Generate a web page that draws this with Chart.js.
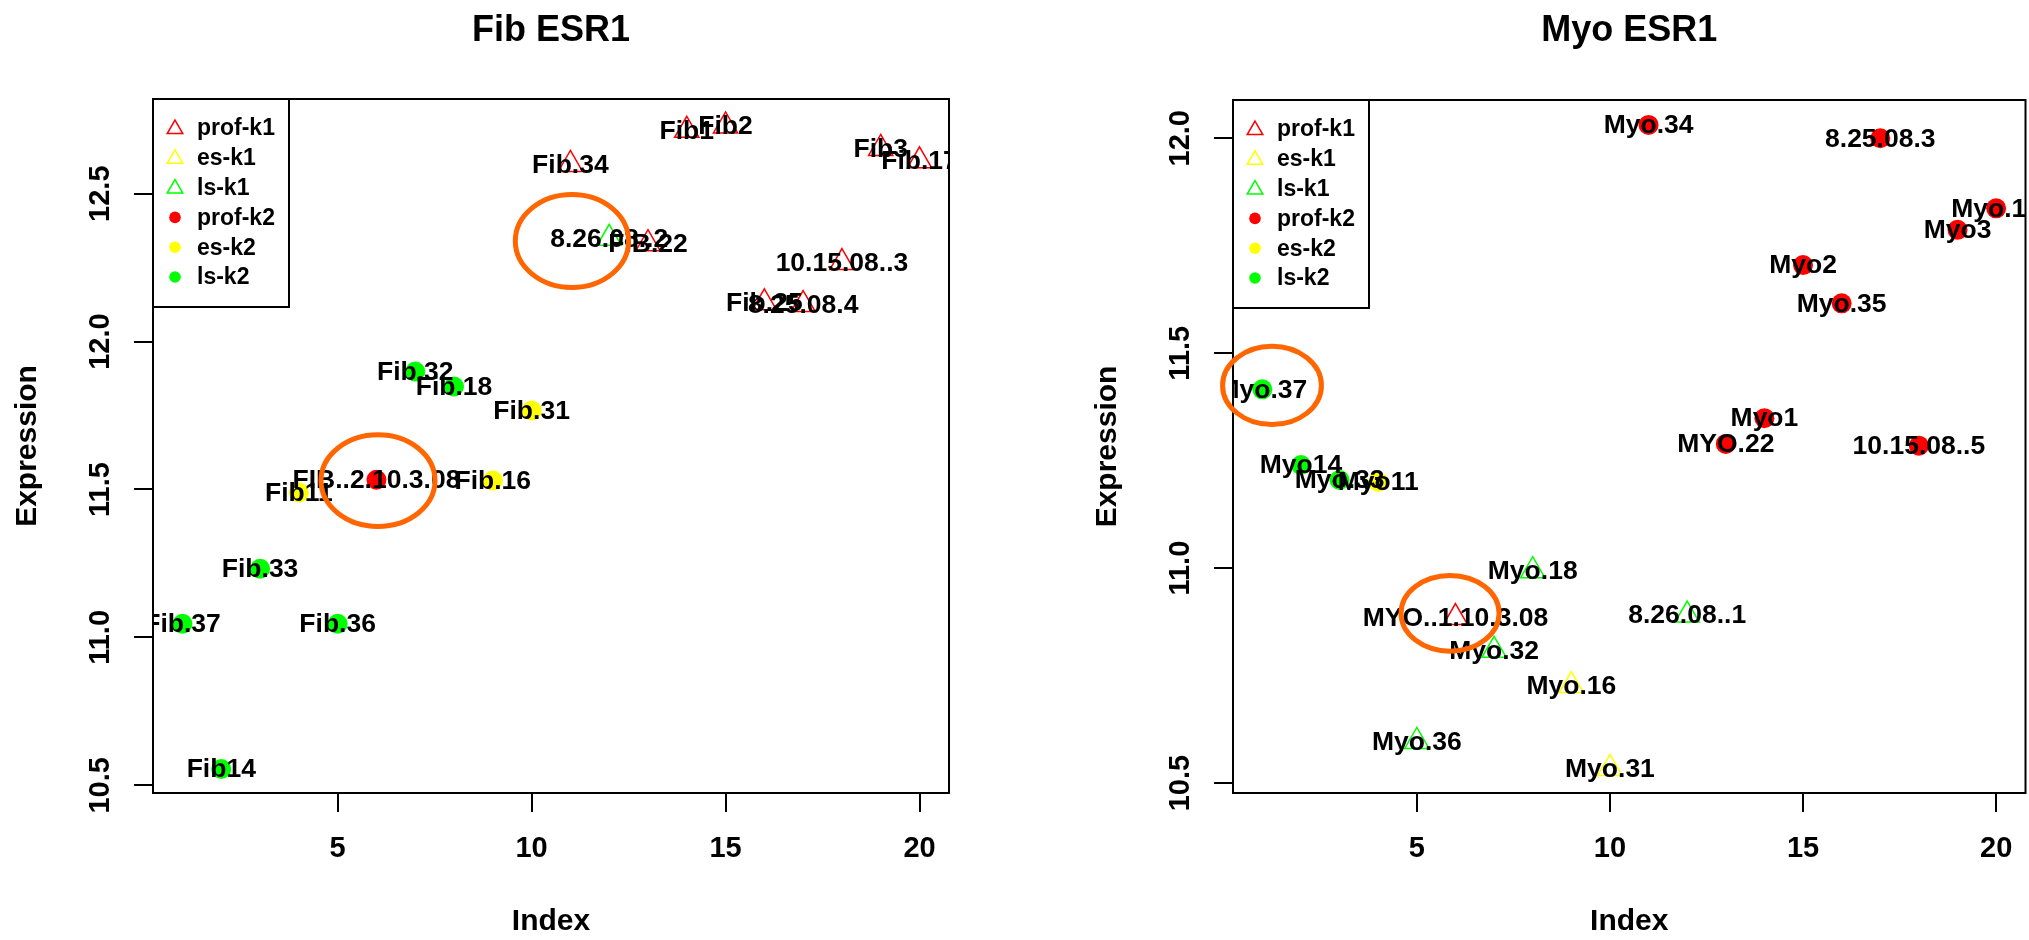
<!DOCTYPE html>
<html lang="en">
<head>
  <meta charset="UTF-8">
  <title>Fib / Myo ESR1</title>
  <script src="https://cdn.jsdelivr.net/npm/chart.js"></script>
  <style>
    body { margin: 0; background: #fff; overflow: hidden; }
    canvas { position: absolute; top: 0; }
    #fibChart { left: 0; }
    #myoChart { left: 1080px; }
  </style>
</head>
<body>
  <canvas id="fibChart" width="1014" height="940"></canvas>
  <canvas id="myoChart" width="961" height="940"></canvas>

  <script>
    // groups used in the legend
    const groupNames = ['prof-k1', 'es-k1', 'ls-k1', 'prof-k2', 'es-k2', 'ls-k2'];
    const groupColors = ['#ff0000', '#ffff00', '#00ff00', '#ff0000', '#ffff00', '#00ff00'];
    const groupShapes = ['triangle', 'triangle', 'triangle', 'circle', 'circle', 'circle'];

    // Fib panel, samples in index order 1..20
    const fibLabels = ['Fib.37', 'Fib14', 'Fib.33', 'Fib11', 'Fib.36', 'FIB..2.10.3.08', 'Fib.32', 'Fib.18', 'Fib.16', 'Fib.31',
      'Fib.34', '8.26.08..2', 'FIB.22', 'Fib1', 'Fib2', 'Fib.25', '8.25.08.4', '10.15.08..3', 'Fib3', 'Fib.17'];
    const fibValues = [11.046, 10.555, 11.232, 11.49, 11.046, 11.533, 11.899, 11.848, 11.53, 11.767,
      12.599, 12.349, 12.331, 12.714, 12.729, 12.131, 12.125, 12.267, 12.653, 12.611];
    const fibGroups = ['ls-k2', 'ls-k2', 'ls-k2', 'es-k2', 'ls-k2', 'prof-k2', 'ls-k2', 'ls-k2', 'es-k2', 'es-k2',
      'prof-k1', 'ls-k1', 'prof-k1', 'prof-k1', 'prof-k1', 'prof-k1', 'prof-k1', 'prof-k1', 'prof-k1', 'prof-k1'];

    // Myo panel
    const myoLabels = ['Myo.37', 'Myo14', 'Myo.33', 'Myo11', 'Myo.36', 'MYO..1.10.3.08', 'Myo.32', 'Myo.18', 'Myo.16', 'Myo.31',
      'Myo.34', '8.26.08..1', 'MYO.22', 'Myo1', 'Myo2', 'Myo.35', '8.25.08.3', '10.15.08..5', 'Myo3', 'Myo.17'];
    const myoValues = [11.416, 11.240, 11.205, 11.201, 10.597, 10.885, 10.809, 10.994, 10.727, 10.534,
      12.031, 10.891, 11.289, 11.349, 11.705, 11.616, 12.0, 11.285, 11.787, 11.837];
    const myoGroups = ['ls-k2', 'ls-k2', 'ls-k2', 'es-k2', 'ls-k1', 'prof-k1', 'ls-k1', 'ls-k1', 'es-k1', 'es-k1',
      'prof-k2', 'ls-k1', 'prof-k2', 'prof-k2', 'prof-k2', 'prof-k2', 'prof-k2', 'prof-k2', 'prof-k2', 'prof-k2'];

    // tick labels and axis limits
    const xTicks = [5, 10, 15, 20];
    const fibYTicks = [10.5, 11.0, 11.5, 12.0, 12.5];
    const myoYTicks = [10.5, 11.0, 11.5, 12.0];
    const xMin = 0.24, xMax = 20.76;
    const fibYMin = 10.474, fibYMax = 12.820;
    const myoYMin = 10.477, myoYMax = 12.089;

    // orange highlight rings (centre and half-size in data units)
    const fibRings = [
      { x: 11.04, y: 12.34, dx: 1.46, dy: 0.157 },
      { x: 6.04, y: 11.53, dx: 1.47, dy: 0.155 }
    ];
    const myoRings = [
      { x: 1.25, y: 11.425, dx: 1.28, dy: 0.091 },
      { x: 5.86, y: 10.895, dx: 1.27, dy: 0.088 }
    ];

    const FONT = "'Liberation Sans', Arial, Helvetica, sans-serif";

    const decorPlugin = {
      id: 'decor',
      afterDatasetsDraw(chart, args, opts) {
        const { ctx, chartArea: a, scales: { x, y } } = chart;

        // point labels, clipped to the plot box like R does
        ctx.save();
        ctx.beginPath();
        ctx.rect(a.left, a.top, a.right - a.left, a.bottom - a.top);
        ctx.clip();
        ctx.font = `bold 26.5px ${FONT}`;
        ctx.fillStyle = '#000';
        ctx.textAlign = 'center';
        ctx.textBaseline = 'middle';
        chart.data.datasets.forEach((ds, di) => {
          chart.getDatasetMeta(di).data.forEach((pt, i) => {
            ctx.fillText(ds.data[i].label, pt.x, pt.y + 1);
          });
        });
        ctx.restore();

        // plot box
        ctx.save();
        ctx.strokeStyle = '#000';
        ctx.lineWidth = 2;
        ctx.strokeRect(a.left, a.top, a.right - a.left, a.bottom - a.top);

        // legend box in the top left corner
        const lw = 136, lh = 208;
        ctx.fillStyle = '#fff';
        ctx.fillRect(a.left, a.top, lw, lh);
        ctx.strokeRect(a.left, a.top, lw, lh);
        ctx.font = `bold 23px ${FONT}`;
        ctx.textAlign = 'left';
        ctx.textBaseline = 'middle';
        groupNames.forEach((name, i) => {
          const cy = a.top + 29 + i * 29.8;
          const cx = a.left + 22;
          if (groupShapes[i] === 'triangle') {
            ctx.strokeStyle = groupColors[i];
            ctx.fillStyle = 'rgba(0,0,0,0)';
            ctx.lineWidth = 1.5;
            Chart.helpers.drawPoint(ctx, { pointStyle: 'triangle', radius: 9, borderWidth: 1.5 }, cx, cy + 1);
          } else {
            ctx.fillStyle = groupColors[i];
            ctx.beginPath();
            ctx.arc(cx, cy, 5.8, 0, Math.PI * 2);
            ctx.fill();
          }
          ctx.fillStyle = '#000';
          ctx.fillText(name, a.left + 44, cy + 1);
        });

        // orange rings
        ctx.strokeStyle = '#ff6600';
        ctx.lineWidth = 5;
        opts.rings.forEach(r => {
          const cx = x.getPixelForValue(r.x);
          const cy = y.getPixelForValue(r.y);
          const rx = Math.abs(x.getPixelForValue(r.x + r.dx) - cx);
          const ry = Math.abs(y.getPixelForValue(r.y + r.dy) - cy);
          ctx.beginPath();
          ctx.ellipse(cx, cy, rx, ry, 0, 0, Math.PI * 2);
          ctx.stroke();
        });
        ctx.restore();
      }
    };

    function makeChart(id, title, labels, values, groups, rings, yMin, yMax, yTicks, padTop, padRight) {
      const datasets = groupNames.map((g, gi) => {
        const data = [];
        values.forEach((v, i) => {
          if (groups[i] === g) data.push({ x: i + 1, y: v, label: labels[i] });
        });
        const tri = groupShapes[gi] === 'triangle';
        return {
          label: g,
          data,
          pointStyle: groupShapes[gi],
          pointRadius: tri ? 14 : 10,
          pointBorderWidth: tri ? 1.5 : 0,
          pointBorderColor: groupColors[gi],
          pointBackgroundColor: tri ? 'rgba(0,0,0,0)' : groupColors[gi],
          showLine: false
        };
      });

      const tickFont = { family: FONT, size: 29, weight: 'bold' };
      const titleFont = { family: FONT, size: 30, weight: 'bold' };

      return new Chart(document.getElementById(id), {
        type: 'scatter',
        data: { datasets },
        options: {
          responsive: false,
          animation: false,
          events: [],
          layout: { padding: { left: 0, right: padRight, top: 0, bottom: 0 } },
          scales: {
            x: {
              type: 'linear',
              min: xMin,
              max: xMax,
              afterBuildTicks: s => { s.ticks = xTicks.map(v => ({ value: v })); },
              afterFit: s => { s.height = 147; s.paddingLeft = 0; s.paddingRight = 0; },
              grid: { drawOnChartArea: false, drawTicks: true, tickLength: 19, color: '#000', lineWidth: 2 },
              border: { display: false },
              ticks: { font: tickFont, color: '#000', padding: 20, maxRotation: 0, autoSkip: false },
              title: { display: true, text: 'Index', font: titleFont, color: '#000', padding: { top: 0, bottom: 0 } }
            },
            y: {
              type: 'linear',
              min: yMin,
              max: yMax,
              afterBuildTicks: s => { s.ticks = yTicks.map(v => ({ value: v })); },
              afterFit: s => { s.width = 153; s.paddingTop = 0; s.paddingBottom = 0; },
              grid: { drawOnChartArea: false, drawTicks: true, tickLength: 19, color: '#000', lineWidth: 2 },
              border: { display: false },
              ticks: {
                font: tickFont, color: '#000', padding: 5, minRotation: 90, maxRotation: 90,
                crossAlign: 'center', autoSkip: false,
                callback: v => v.toFixed(1)
              },
              title: { display: true, text: 'Expression', font: titleFont, color: '#000', padding: { top: 10, bottom: 0 } }
            }
          },
          plugins: {
            legend: { display: false },
            tooltip: { enabled: false },
            title: {
              display: true,
              text: title,
              fullSize: false,
              color: '#000',
              font: { family: FONT, size: 36, weight: 'bold' },
              padding: { top: 9, bottom: padTop - 52.2 }
            },
            decor: { rings }
          }
        },
        plugins: [decorPlugin]
      });
    }

    makeChart('fibChart', 'Fib ESR1', fibLabels, fibValues, fibGroups, fibRings,
      fibYMin, fibYMax, fibYTicks, 99, 65);
    makeChart('myoChart', 'Myo ESR1', myoLabels, myoValues, myoGroups, myoRings,
      myoYMin, myoYMax, myoYTicks, 100, 4);
  </script>
</body>
</html>
